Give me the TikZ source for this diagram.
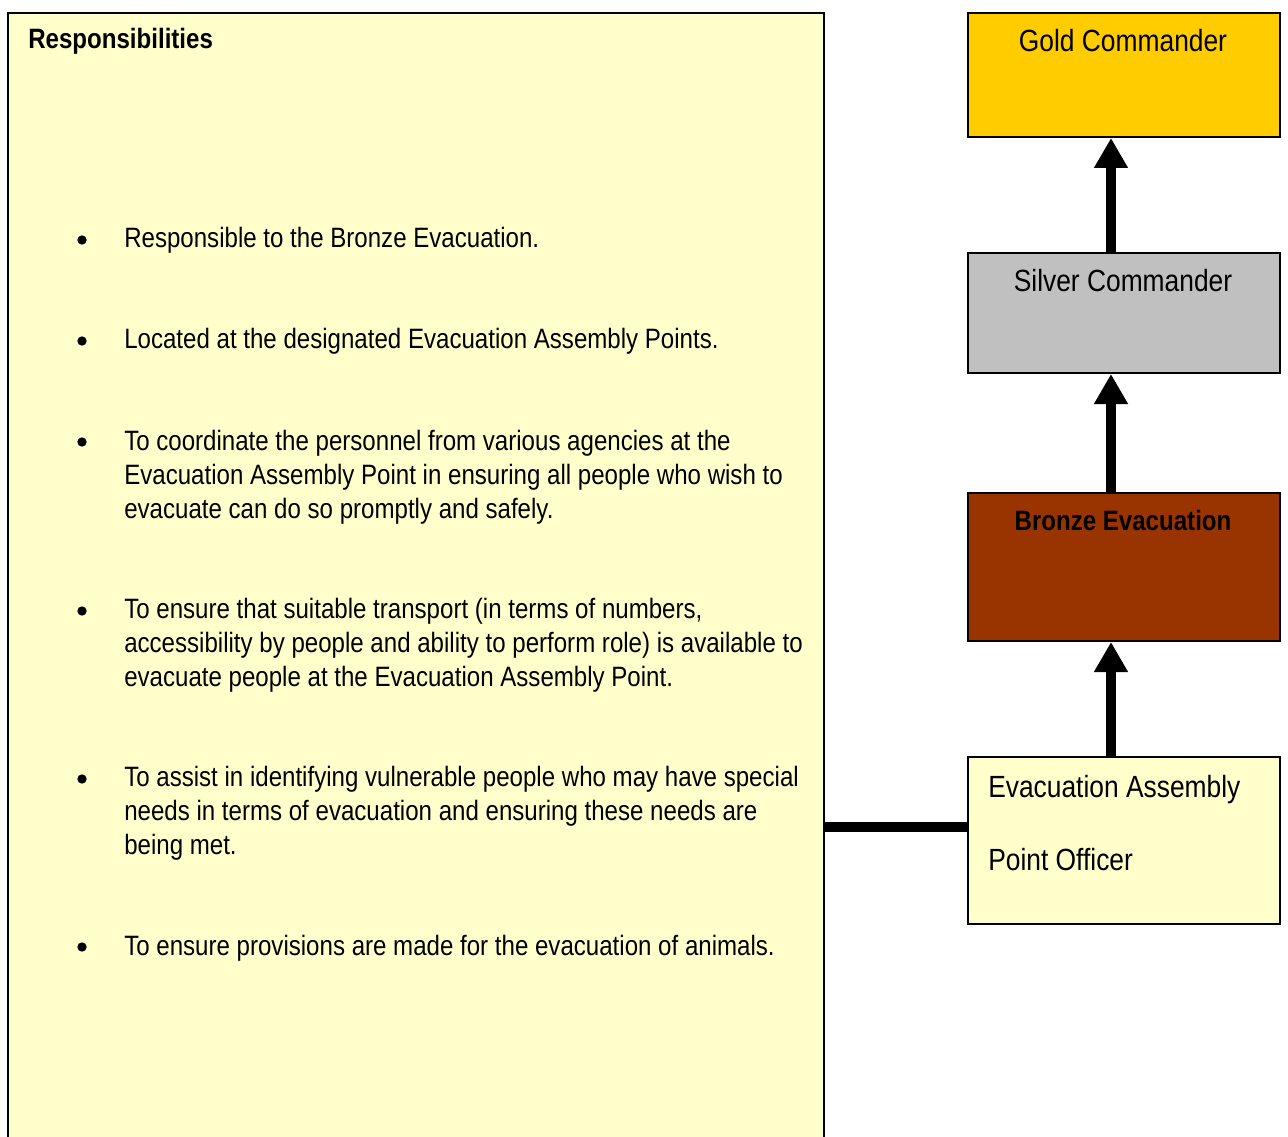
\documentclass[tikz,border=0pt]{standalone}
\usepackage{fontspec}
\setmainfont{Liberation Sans}[FakeStretch=0.86]
\usetikzlibrary{arrows.meta,calc}

\definecolor{paleyellow}{HTML}{FFFFCC}
\definecolor{goldfill}{HTML}{FFCC00}
\definecolor{silverfill}{HTML}{C0C0C0}
\definecolor{bronzefill}{HTML}{993300}

\begin{document}
\begin{tikzpicture}[x=0.75pt,y=-0.75pt,
  panel/.style={draw=black,line width=1.5pt,inner sep=0pt,anchor=north west},
  rolelabel/.style={inner sep=0pt,font=\fontsize{23pt}{27pt}\selectfont},
  % multi-line entries are placed by the baseline of their last line
  bodytext/.style={inner sep=0pt,anchor=base west,align=left,
    font=\fontsize{21pt}{25.5pt}\selectfont},
  bulletdot/.style={circle,fill=black,inner sep=0pt,minimum size=7pt},
  uplink/.style={line width=7.5pt,-{Triangle[width=24pt,length=22.5pt]}},
  sidelink/.style={line width=7.5pt}]

\useasboundingbox (0,0) rectangle (1288,1137);
\clip (0,0) rectangle (1288,1137);

% responsibilities panel (runs past the lower edge)
\node[panel,fill=paleyellow,minimum width=612pt,minimum height=856pt] (resp) at (7,12) {};
\node[inner sep=0pt,anchor=base west,font=\fontsize{21pt}{24pt}\selectfont\bfseries] (resptitle) at (28,49) {Responsibilities};

% bullet list
\node[bulletdot] (d1) at (82,240) {};
\node[bodytext] (t1) at (124,248) {Responsible to the Bronze Evacuation.};
\node[bulletdot] (d2) at (82,341) {};
\node[bodytext] (t2) at (124,349) {Located at the designated Evacuation Assembly Points.};
\node[bulletdot] (d3) at (82,442) {};
\node[bodytext] (t3) at (124,518) {To coordinate the personnel from various agencies at the\\Evacuation Assembly Point in ensuring all people who wish to\\evacuate can do so promptly and safely.};
\node[bulletdot] (d4) at (82,611) {};
\node[bodytext] (t4) at (124,686) {To ensure that suitable transport (in terms of numbers,\\accessibility by people and ability to perform role) is available to\\evacuate people at the Evacuation Assembly Point.};
\node[bulletdot] (d5) at (82,779) {};
\node[bodytext] (t5) at (124,854) {To assist in identifying vulnerable people who may have special\\needs in terms of evacuation and ensuring these needs are\\being met.};
\node[bulletdot] (d6) at (82,947) {};
\node[bodytext] (t6) at (124,955) {To ensure provisions are made for the evacuation of animals.};

% command chain
\node[panel,fill=goldfill,minimum width=234pt,minimum height=93pt] (gold) at (967,12) {};
\node[rolelabel,anchor=base] (goldlbl) at (1123,52) {Gold Commander};

\node[panel,fill=silverfill,minimum width=234pt,minimum height=90pt] (silver) at (967,252) {};
\node[rolelabel,anchor=base] (silverlbl) at (1123,292) {Silver Commander};

\node[panel,fill=bronzefill,minimum width=234pt,minimum height=111pt] (bronze) at (967,492) {};
\node[rolelabel,anchor=base,font=\fontsize{21pt}{25pt}\selectfont\bfseries] (bronzelbl) at (1123,530) {Bronze Evacuation};

\node[panel,fill=paleyellow,minimum width=234pt,minimum height=125.25pt] (eapo) at (967,756) {};
\node[rolelabel,anchor=base west] (eapolbl1) at (988,797) {Evacuation Assembly};
\node[rolelabel,anchor=base west] (eapolbl2) at (988,870) {Point Officer};

% reporting lines
\draw[uplink] (silver.north -| 1111,0) -- (gold.south -| 1111,0);
\draw[uplink] (bronze.north -| 1111,0) -- (silver.south -| 1111,0);
\draw[uplink] (eapo.north -| 1111,0) -- (bronze.south -| 1111,0);

\coordinate (join) at (823,827);
\draw[sidelink] (join) -- (join -| eapo.west);
\end{tikzpicture}
\end{document}
